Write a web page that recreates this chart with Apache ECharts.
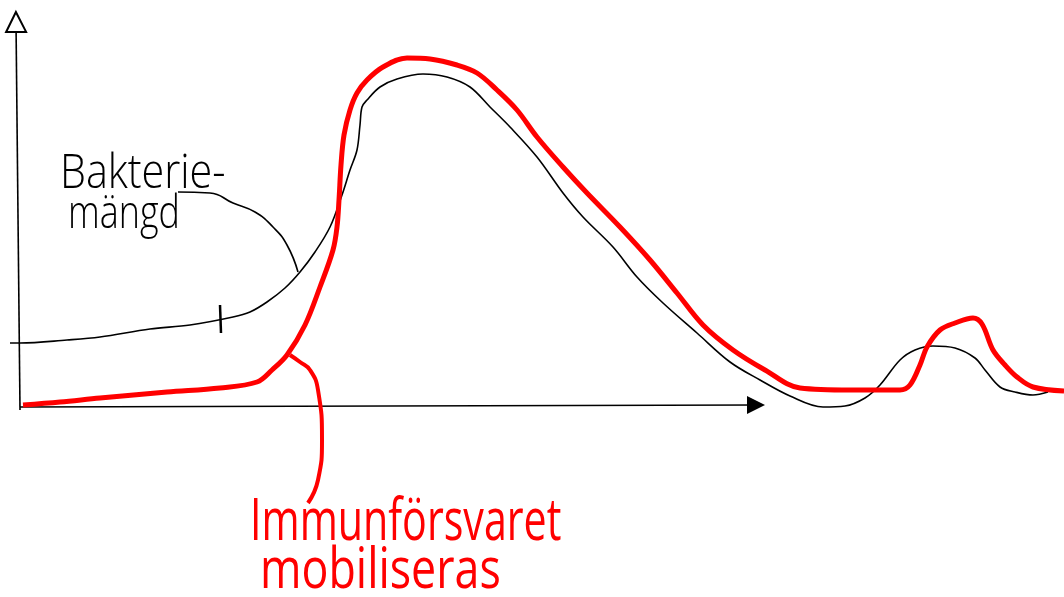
<!DOCTYPE html>
<html>
<head>
<meta charset="utf-8">
<script src="https://cdn.jsdelivr.net/npm/echarts@6/dist/echarts.min.js"></script>
<style>
  html, body { margin: 0; padding: 0; background: #fff; }
  #chart { width: 1064px; height: 597px; }
</style>
</head>
<body>
<div id="chart"></div>
<script>
// tid (x) och mängd (y), avlästa från skissen
const bakterieX = [-1, 0, 4.7, 8, 13, 17, 21.3, 23, 24.7, 26.5, 28, 29.5, 31, 32.2, 33, 33.7, 34, 34.2, 34.7, 36, 37.7, 40.3, 42.7, 45, 47, 49, 51.7, 54.3, 56.3, 59.3, 61.7, 64.3, 67.7, 71, 74, 77, 80.3, 82.5, 84.5, 86, 88, 89.5, 91.3, 93.5, 95.5, 96.5, 98, 99.5, 101.3, 102.8];
const bakterieY = [6.2, 6.2, 6.5, 6.8, 7.6, 8.0, 8.8, 9.3, 10.3, 11.7, 13.3, 15.3, 17.8, 21, 23.5, 25.5, 28, 29.8, 30.5, 31.8, 32.6, 33.1, 32.8, 31.8, 29.8, 27.8, 24.8, 21.2, 18.8, 15.8, 12.8, 10.2, 7.2, 4.3, 2.5, 0.9, -0.2, -0.1, 0.7, 2, 4.5, 5.5, 5.9, 5.7, 4.7, 3.5, 1.8, 1.3, 1.0, 1.3];

const immunX = [0.3, 4, 8, 14.7, 20, 23.7, 25.2, 26.7, 28.5, 30, 31.3, 31.7, 31.9, 32.1, 32.4, 33, 33.7, 34.7, 36.3, 38.7, 41, 43.7, 45.7, 47.7, 49.7, 51.7, 54.3, 56.7, 60, 63, 65.7, 68.3, 71.3, 74.5, 78, 83, 88, 89, 90, 90.7, 92, 93.5, 95.3, 96.2, 97.3, 98.5, 99.7, 101.3, 104.4];
const immunY = [0, 0.3, 0.7, 1.3, 1.7, 2.3, 3.5, 5, 8, 11.8, 15.5, 17.8, 20.5, 24, 27, 29.5, 31.2, 32.5, 33.8, 34.7, 34.6, 34, 33.2, 31.5, 29.5, 26.8, 23.8, 21.2, 17.8, 14.5, 11.2, 8, 5.5, 3.5, 1.7, 1.5, 1.5, 2, 4, 5.8, 7.5, 8.2, 8.7, 8.1, 5.5, 4, 2.8, 1.8, 1.4];

// pekarlinjer från etiketterna till kurvorna
const bakteriePekareX = [15.8, 19, 21.3, 23.5, 25.3, 26.7, 27.8];
const bakteriePekareY = [21.3, 21.2, 20.2, 19.3, 17.8, 16, 13.3];
const immunPekareX = [27, 28, 29, 29.8, 30.2, 29.8, 28.8];
const immunPekareY = [5, 4.3, 3.5, 1.5, -3.5, -7.5, -9.8];

// markering på bakteriekurvan
const markX = [20, 20.1];
const markY = [10, 7.2];

// handritade axlar (start, slut)
const yAxelX = [0, -0.4];
const yAxelY = [-0.5, 38.3];
const xAxelX = [0, 73.6];
const xAxelY = [-0.2, 0];

const zip = (xs, ys) => xs.map((x, i) => [x, ys[i]]);

const chart = echarts.init(document.getElementById('chart'));

chart.setOption({
  animation: false,
  grid: { left: 0, right: 0, top: 0, bottom: 0 },
  xAxis: { type: 'value', min: -2, max: 104.4, show: false },
  yAxis: { type: 'value', min: -19.2, max: 40.5, show: false },
  series: [
    {
      type: 'lines',
      coordinateSystem: 'cartesian2d',
      symbol: ['none', 'emptyTriangle'],
      symbolSize: 20,
      lineStyle: { color: '#000', width: 1.6, opacity: 1 },
      data: [{ coords: zip(yAxelX, yAxelY) }],
      z: 2
    },
    {
      type: 'lines',
      coordinateSystem: 'cartesian2d',
      symbol: ['none', 'triangle'],
      symbolSize: 18,
      lineStyle: { color: '#000', width: 1.6, opacity: 1 },
      data: [{ coords: zip(xAxelX, xAxelY) }],
      z: 2
    },
    {
      type: 'line',
      data: zip(bakterieX, bakterieY),
      smooth: 0.35,
      showSymbol: false,
      lineStyle: { color: '#000', width: 1.6 },
      z: 3
    },
    {
      type: 'line',
      data: zip(markX, markY),
      showSymbol: false,
      lineStyle: { color: '#000', width: 2.5 },
      z: 3
    },
    {
      type: 'line',
      data: zip(bakteriePekareX, bakteriePekareY),
      smooth: 0.5,
      showSymbol: false,
      lineStyle: { color: '#000', width: 1.6 },
      z: 3
    },
    {
      type: 'line',
      data: zip(immunX, immunY),
      smooth: 0.35,
      showSymbol: false,
      lineStyle: { color: '#ff0000', width: 5 },
      z: 4
    },
    {
      type: 'line',
      data: zip(immunPekareX, immunPekareY),
      smooth: 0.5,
      showSymbol: false,
      lineStyle: { color: '#ff0000', width: 4 },
      z: 4
    }
  ],
  graphic: [
    {
      type: 'text', x: 60, y: 150, scaleX: 0.86,
      style: { text: 'Bakterie-', fill: '#000', font: '300 48px "Open Sans"', verticalAlign: 'top' }
    },
    {
      type: 'text', x: 68, y: 192, scaleX: 0.78,
      style: { text: 'mängd', fill: '#000', font: '300 46px "Open Sans"', verticalAlign: 'top' }
    },
    {
      type: 'text', x: 250, y: 494, scaleX: 0.71,
      style: { text: 'Immunförsvaret', fill: '#ff0000', font: '400 58px "Open Sans"', verticalAlign: 'top' }
    },
    {
      type: 'text', x: 260, y: 544, scaleX: 0.8,
      style: { text: 'mobiliseras', fill: '#ff0000', font: '400 56px "Open Sans"', verticalAlign: 'top' }
    }
  ]
});
</script>
</body>
</html>
